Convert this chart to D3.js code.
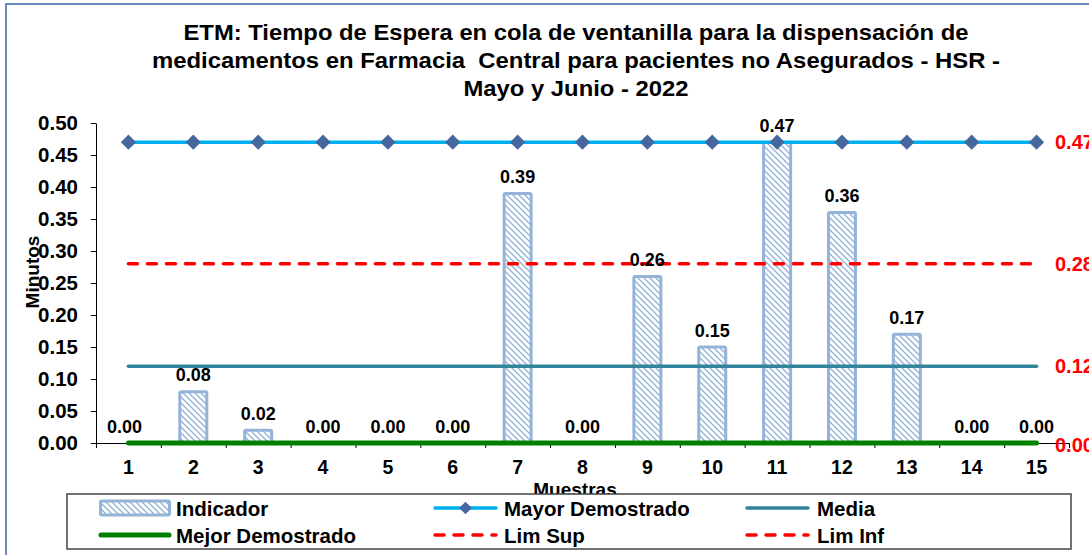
<!DOCTYPE html>
<html>
<head>
<meta charset="utf-8">
<script src="https://cdn.jsdelivr.net/npm/d3@7"></script>
<style>
  body { margin: 0; background: #fff; }
  svg { font-family: Arial, "Liberation Sans", sans-serif; }
</style>
</head>
<body>
<script>
// data
const muestras = [1, 2, 3, 4, 5, 6, 7, 8, 9, 10, 11, 12, 13, 14, 15];
const indicador = [0.00, 0.08, 0.02, 0.00, 0.00, 0.00, 0.39, 0.00, 0.26, 0.15, 0.47, 0.36, 0.17, 0.00, 0.00];
const mayorDemostrado = muestras.map(() => 0.47);
const media = muestras.map(() => 0.12);
const mejorDemostrado = muestras.map(() => 0.00);
const limSup = muestras.map(() => 0.28);
const limInf = muestras.map(() => 0.00);
const yTicks = [0, 0.05, 0.10, 0.15, 0.20, 0.25, 0.30, 0.35, 0.40, 0.45, 0.50];
const titleLines = [
  'ETM: Tiempo de Espera en cola de ventanilla para la dispensación de',
  'medicamentos en Farmacia  Central para pacientes no Asegurados - HSR -',
  'Mayo y Junio - 2022'
];
const titleWidths = [785, 848, 225];

let width = 1089,
    height = 555;

const svg = d3.select('body').append('svg')
    .attr('width', width)
    .attr('height', height);

const defs = svg.append('defs');
defs.append('pattern')
    .attr('id', 'hatch')
    .attr('patternUnits', 'userSpaceOnUse')
    .attr('width', 6)
    .attr('height', 6)
    .append('path')
    .attr('d', 'M0,0 L6,6 M-1,5 L1,7 M5,-1 L7,1')
    .attr('stroke', '#95b3d7')
    .attr('stroke-width', 1.4);

// outer frame
svg.append('rect')
    .attr('x', 6).attr('y', 4)
    .attr('width', 1200).attr('height', 700)
    .attr('fill', 'none')
    .attr('stroke', '#3a67a8')
    .attr('stroke-width', 1.5);

const x = d3.scaleBand()
    .domain(muestras)
    .range([96, 1069]);

const xEdge = d3.scaleLinear()
    .domain([0.5, 15.5])
    .range([96, 1069]);

const y = d3.scaleLinear()
    .domain([0, 0.5])
    .range([443, 123]);

const cx = d => x(d) + x.bandwidth() / 2;

// title
svg.append('g')
    .selectAll('text')
    .data(titleLines)
    .enter().append('text')
    .attr('x', 576)
    .attr('y', (d, i) => 40 + i * 28)
    .attr('text-anchor', 'middle')
    .attr('font-weight', 'bold')
    .attr('font-size', 22)
    .attr('textLength', (d, i) => titleWidths[i])
    .attr('lengthAdjust', 'spacingAndGlyphs')
    .style('white-space', 'pre')
    .text(d => d);

// y axis
const yAxis = svg.append('g')
    .attr('transform', 'translate(96,0)')
    .call(d3.axisLeft(y)
        .tickValues(yTicks)
        .tickSize(5)
        .tickSizeOuter(0)
        .tickPadding(13)
        .tickFormat(d3.format('.2f')));
yAxis.selectAll('text')
    .attr('font-size', 20.5)
    .attr('font-weight', 'bold')
    .attr('fill', '#000');
yAxis.selectAll('line, path').attr('stroke', '#000');

// x axis: ticks between categories, labels on centers
const xTickAxis = svg.append('g')
    .attr('transform', 'translate(0,443)')
    .call(d3.axisBottom(xEdge)
        .tickValues(d3.range(0.5, 15.6, 1))
        .tickSize(5)
        .tickSizeOuter(0)
        .tickFormat(''));
xTickAxis.selectAll('line, path').attr('stroke', '#000');

const xLabelAxis = svg.append('g')
    .attr('transform', 'translate(0,443)')
    .call(d3.axisBottom(x).tickSize(0).tickPadding(17));
xLabelAxis.select('.domain').remove();
xLabelAxis.selectAll('text')
    .attr('font-size', 19.5)
    .attr('font-weight', 'bold')
    .attr('fill', '#000');

// bars
svg.append('g')
    .selectAll('rect')
    .data(indicador)
    .enter().append('rect')
    .attr('x', (d, i) => cx(muestras[i]) - 13.5)
    .attr('width', 27)
    .attr('y', d => y(d))
    .attr('height', d => y(0) - y(d))
    .attr('fill', 'url(#hatch)')
    .attr('stroke', '#95b3d7')
    .attr('stroke-width', 3)
    .attr('rx', 1.5);

const line = d3.line()
    .x((d, i) => cx(muestras[i]))
    .y(d => y(d));

function drawLine(values, color, w, dash) {
  svg.append('path')
      .datum(values)
      .attr('d', line)
      .attr('fill', 'none')
      .attr('stroke', color)
      .attr('stroke-width', w)
      .attr('stroke-linecap', 'round')
      .attr('stroke-dasharray', dash || null);
}

drawLine(limInf, '#ff0000', 3.5, '9,10');
drawLine(mejorDemostrado, '#008000', 5);
drawLine(media, '#31849b', 3.5);
drawLine(limSup, '#ff0000', 3.5, '9,10');
drawLine(mayorDemostrado, '#00b0f0', 3.5);

// diamonds on Mayor Demostrado
svg.append('g')
    .selectAll('path')
    .data(mayorDemostrado)
    .enter().append('path')
    .attr('d', d3.symbol().type(d3.symbolSquare).size(115))
    .attr('transform', (d, i) => `translate(${cx(muestras[i])},${y(d)}) rotate(45)`)
    .attr('fill', '#44689e');

// bar labels
svg.append('g')
    .selectAll('text')
    .data(indicador)
    .enter().append('text')
    .attr('x', (d, i) => cx(muestras[i]) - (i === 0 ? 4 : 0))
    .attr('y', d => y(d) - 10.5)
    .attr('text-anchor', 'middle')
    .attr('font-size', 18)
    .attr('font-weight', 'bold')
    .text(d => d3.format('.2f')(d));

// right-side labels for the last point of each line
const rightLabels = [mayorDemostrado, limSup, media, mejorDemostrado];
svg.append('g')
    .selectAll('text')
    .data(rightLabels)
    .enter().append('text')
    .attr('x', 1055)
    .attr('y', d => y(d[d.length - 1]) + 7 + (d === mejorDemostrado ? 2 : 0))
    .attr('fill', '#ff0000')
    .attr('font-size', 20)
    .attr('font-weight', 'bold')
    .text(d => d3.format('.2f')(d[d.length - 1]));

// axis titles
svg.append('text')
    .attr('transform', 'translate(39,272) rotate(-90)')
    .attr('text-anchor', 'middle')
    .attr('font-size', 19)
    .attr('font-weight', 'bold')
    .text('Minutos');

svg.append('text')
    .attr('x', 575)
    .attr('y', 496)
    .attr('text-anchor', 'middle')
    .attr('font-size', 19)
    .attr('font-weight', 'bold')
    .text('Muestras');

// legend
const legend = svg.append('g');
legend.append('rect')
    .attr('x', 67).attr('y', 494)
    .attr('width', 1004).attr('height', 55)
    .attr('fill', '#fff')
    .attr('stroke', '#444')
    .attr('stroke-width', 1.5);

const legendItems = [
  {name: 'Indicador', col: 0, row: 0, type: 'bar'},
  {name: 'Mayor Demostrado', col: 1, row: 0, type: 'line', color: '#00b0f0', marker: true},
  {name: 'Media', col: 2, row: 0, type: 'line', color: '#31849b'},
  {name: 'Mejor Demostrado', col: 0, row: 1, type: 'line', color: '#008000', w: 5},
  {name: 'Lim Sup', col: 1, row: 1, type: 'line', color: '#ff0000', dash: '9,10'},
  {name: 'Lim Inf', col: 2, row: 1, type: 'line', color: '#ff0000', dash: '9,10'}
];
const colX = [{s: 99, e: 171, t: 176}, {s: 433, e: 498, t: 504}, {s: 745, e: 810, t: 817}];
const rowY = [508, 535];

legendItems.forEach(function (it) {
  const c = colX[it.col], gy = rowY[it.row];
  if (it.type === 'bar') {
    legend.append('rect')
        .attr('x', c.s + 1.5).attr('y', gy - 7)
        .attr('width', c.e - c.s - 3).attr('height', 14)
        .attr('fill', 'url(#hatch)')
        .attr('stroke', '#95b3d7')
        .attr('stroke-width', 3)
        .attr('rx', 1.5);
  } else {
    legend.append('line')
        .attr('x1', c.s + 2).attr('x2', c.e - 2)
        .attr('y1', gy).attr('y2', gy)
        .attr('stroke', it.color)
        .attr('stroke-width', it.w || 3.5)
        .attr('stroke-linecap', 'round')
        .attr('stroke-dasharray', it.dash || null);
    if (it.marker) {
      legend.append('path')
          .attr('d', d3.symbol().type(d3.symbolSquare).size(80))
          .attr('transform', `translate(${(c.s + c.e) / 2},${gy}) rotate(45)`)
          .attr('fill', '#44689e');
    }
  }
  legend.append('text')
      .attr('x', c.t)
      .attr('y', gy + 7.5)
      .attr('font-size', 20.5)
      .attr('font-weight', 'bold')
      .text(it.name);
});
</script>
</body>
</html>
